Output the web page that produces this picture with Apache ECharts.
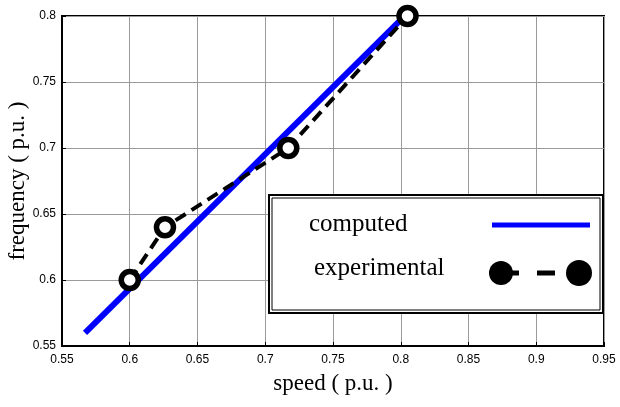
<!DOCTYPE html>
<html>
<head>
<meta charset="utf-8">
<script src="https://cdn.jsdelivr.net/npm/echarts@6/dist/echarts.min.js"></script>
<style>
  html, body { margin: 0; padding: 0; background: #fff; }
  #chart { width: 620px; height: 407px; }
</style>
</head>
<body>
<div id="chart"></div>
<script>
// computed curve (straight line) and measured points, in p.u.
const computedSpeed = [0.567, 0.8];
const computedFreq = [0.56, 0.797];
const expSpeed = [0.6, 0.626, 0.717, 0.805];
const expFreq = [0.6, 0.64, 0.7, 0.8];

const X_TICKS = [0.55, 0.6, 0.65, 0.7, 0.75, 0.8, 0.85, 0.9, 0.95];
const Y_TICKS = [0.55, 0.6, 0.65, 0.7, 0.75, 0.8];

const SERIF = "'Liberation Serif','Times New Roman',serif";
const SANS = "'Liberation Sans',Arial,sans-serif";

const chart = echarts.init(document.getElementById("chart"), null, { renderer: "canvas" });

chart.setOption({
  animation: false,
  backgroundColor: "#fff",
  grid: {
    left: 62, right: 16, top: 16, bottom: 61,
    outerBoundsMode: "none", containLabel: false,
    show: true, borderColor: "#000", borderWidth: 2,
  },
  xAxis: {
    type: "value",
    min: X_TICKS[0],
    max: X_TICKS[X_TICKS.length - 1],
    interval: 0.05,
    name: "speed ( p.u. )",
    nameLocation: "middle",
    nameGap: 26,
    nameMoveOverlap: false,
    nameTextStyle: { fontFamily: SERIF, fontSize: 23, color: "#000" },
    axisLine: { show: true, onZero: false, lineStyle: { color: "#000", width: 2 } },
    axisTick: { show: true, inside: true, length: 4, lineStyle: { color: "#000" } },
    axisLabel: { color: "#000", fontFamily: SANS, fontSize: 12, margin: 8,
      formatter: (v) => String(+v.toFixed(2)) },
    splitLine: { show: true, lineStyle: { color: "#9a9a9a", width: 1 } },
  },
  yAxis: {
    type: "value",
    min: Y_TICKS[0],
    max: Y_TICKS[Y_TICKS.length - 1],
    interval: 0.05,
    name: "frequency ( p.u. )",
    nameLocation: "middle",
    nameGap: 33,
    nameMoveOverlap: false,
    nameTextStyle: { fontFamily: SERIF, fontSize: 23, color: "#000" },
    axisLine: { show: true, onZero: false, lineStyle: { color: "#000", width: 2 } },
    axisTick: { show: true, inside: true, length: 4, lineStyle: { color: "#000" } },
    axisLabel: { color: "#000", fontFamily: SANS, fontSize: 12, margin: 6,
      formatter: (v) => String(+v.toFixed(2)) },
    splitLine: { show: true, lineStyle: { color: "#9a9a9a", width: 1 } },
  },
  series: [
    {
      name: "computed",
      type: "line",
      data: computedSpeed.map((s, i) => [s, computedFreq[i]]),
      showSymbol: false,
      lineStyle: { color: "#0000ff", width: 6 },
      z: 2,
    },
    {
      name: "experimental",
      type: "line",
      data: expSpeed.map((s, i) => [s, expFreq[i]]),
      symbol: "circle",
      symbolSize: 17,
      itemStyle: { color: "#fff", borderColor: "#000", borderWidth: 5.5 },
      lineStyle: { color: "#000", width: 4, type: [12, 7] },
      z: 3,
    },
  ],
  graphic: [
    {
      type: "rect",
      shape: { x: 269, y: 195, width: 334, height: 118 },
      style: { fill: "#fff", stroke: "#000", lineWidth: 2 },
      z: 10,
    },
    {
      type: "rect",
      shape: { x: 272, y: 198, width: 328, height: 112 },
      style: { fill: "none", stroke: "#000", lineWidth: 1 },
      z: 10,
    },
    {
      type: "text",
      x: 309, y: 224,
      style: { text: "computed", font: "25px " + SERIF, fill: "#000", textVerticalAlign: "middle" },
      z: 11,
    },
    {
      type: "line",
      shape: { x1: 492, y1: 225, x2: 590, y2: 225 },
      style: { stroke: "#0000ff", lineWidth: 5 },
      z: 11,
    },
    {
      type: "text",
      x: 314, y: 268,
      style: { text: "experimental", font: "25px " + SERIF, fill: "#000", textVerticalAlign: "middle" },
      z: 11,
    },
    {
      type: "line",
      shape: { x1: 501, y1: 273, x2: 579, y2: 273 },
      style: { stroke: "#000", lineWidth: 5, lineDash: [18, 18] },
      z: 11,
    },
    {
      type: "circle",
      shape: { cx: 501, cy: 273, r: 12 },
      style: { fill: "#000" },
      z: 12,
    },
    {
      type: "circle",
      shape: { cx: 579, cy: 273, r: 13 },
      style: { fill: "#000" },
      z: 12,
    },
  ],
});
</script>
</body>
</html>
